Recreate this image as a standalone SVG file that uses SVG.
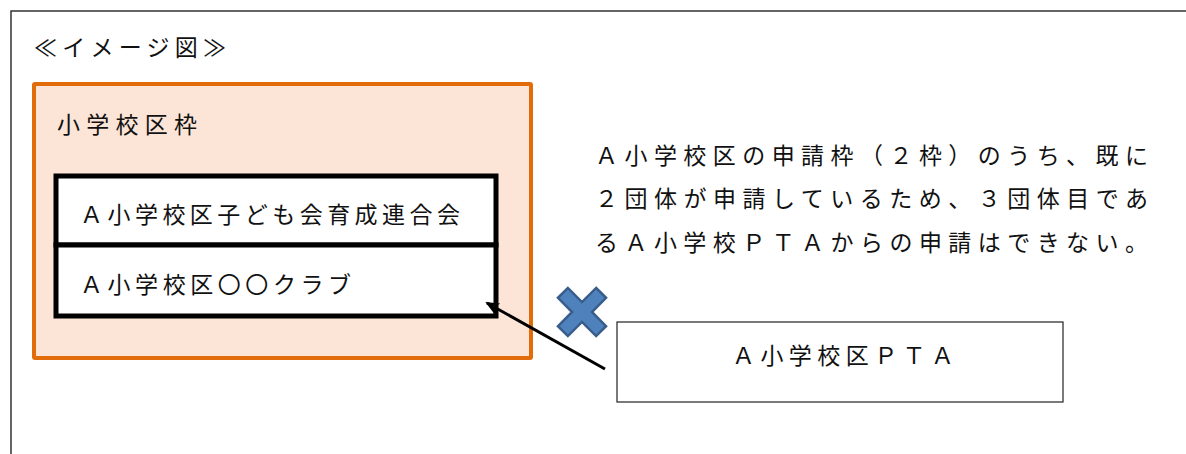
<svg xmlns="http://www.w3.org/2000/svg" width="1186" height="454" viewBox="0 0 1186 454">
<style>
text{font-family:"Liberation Serif","Noto Sans CJK JP",serif;font-size:23px;fill:#111}
.frame{fill:none;stroke:#333;stroke-width:1.5}
.slot{fill:#fff;stroke:#000;stroke-width:5}
</style>
<defs>
<marker id="ah" markerWidth="14" markerHeight="12" refX="12" refY="6" orient="auto" markerUnits="userSpaceOnUse" viewBox="0 0 14 12">
<path d="M0,0 L14,6 L0,12 L4,6 Z" fill="#000"/>
</marker>
</defs>
<rect class="frame" x="11" y="11" width="1200" height="520"/>
<text x="34" y="56" textLength="192" lengthAdjust="spacing">≪イメージ図≫</text>
<g id="zone">
<rect x="34" y="84" width="497" height="274" fill="#FCE5D6" stroke="#E36C0A" stroke-width="4" rx="1"/>
<text x="57" y="133" textLength="140" lengthAdjust="spacing">小学校区枠</text>
</g>
<g id="slot1">
<rect class="slot" x="56" y="176" width="440" height="69"/>
<text x="80" y="223" textLength="380" lengthAdjust="spacing">Ａ小学校区子ども会育成連合会</text>
</g>
<g id="slot2">
<rect class="slot" x="56" y="245" width="440" height="71"/>
<text x="80" y="293" textLength="271" lengthAdjust="spacing">Ａ小学校区〇〇クラブ</text>
</g>
<g id="pta">
<rect x="617" y="322" width="446" height="80" fill="#fff" stroke="#222" stroke-width="1.2"/>
<text x="732" y="364" textLength="222" lengthAdjust="spacing">Ａ小学校区ＰＴＡ</text>
</g>
<g id="note">
<text x="595" y="164" textLength="553" lengthAdjust="spacing">Ａ小学校区の申請枠（２枠）のうち、既に</text>
<text x="595" y="207" textLength="553" lengthAdjust="spacing">２団体が申請しているため、３団体目であ</text>
<text x="595" y="251" textLength="553" lengthAdjust="spacing">るＡ小学校ＰＴＡからの申請はできない。</text>
</g>
<g id="connectors">
<line x1="605" y1="369" x2="487" y2="303" stroke="#000" stroke-width="3" marker-end="url(#ah)"/>
</g>
<g id="cross" transform="translate(582,312) rotate(45)">
<polygon points="-7,-27 7,-27 7,-7 27,-7 27,7 7,7 7,27 -7,27 -7,7 -27,7 -27,-7 -7,-7" fill="#4F81BD" stroke="#385D8A" stroke-width="2.5" stroke-linejoin="miter"/>
</g>
</svg>
